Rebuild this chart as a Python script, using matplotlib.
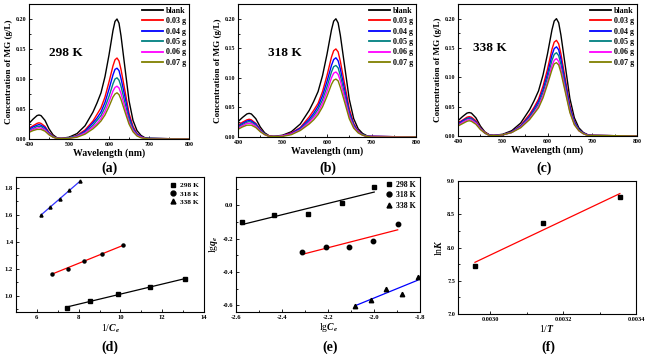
import matplotlib
matplotlib.use("Agg")
import matplotlib.pyplot as plt
import numpy as np

plt.rcParams['font.family'] = ['Liberation Serif', 'DejaVu Serif']
plt.rcParams['font.weight'] = 'bold'
plt.rcParams['mathtext.fontset'] = 'custom'
plt.rcParams['mathtext.rm'] = 'Liberation Serif:bold'
plt.rcParams['mathtext.it'] = 'Liberation Serif:bold:italic'

# ---------------- spectra data ----------------
wavelength = [400, 410, 420, 425, 430, 440, 450, 460, 470, 480,
              490, 500, 520, 540, 560, 570, 580, 590, 600, 610, 615, 620,
              625, 630, 640, 650, 660, 670, 680, 690, 700, 800]
series_labels = ['blank', '0.03 g', '0.04 g', '0.05 g', '0.06 g', '0.07 g']
series_colors = ['#000000', '#ff0000', '#0000ff', '#008080', '#ff00ff', '#808000']

blank = [.026, .033, .039, .040, .039, .031, .017, .007, .002, .001,
         .002, .003, .009, .022, .045, .060, .077, .104, .140, .181, .196, .200,
         .193, .172, .118, .064, .031, .014, .006, .002, .001, 0]

spec_298 = [
    blank,
    [.018, .022, .026, .027, .026, .021, .011, .005, .001, .001,
     .001, .002, .006, .015, .030, .041, .052, .070, .095, .122, .132, .135,
     .130, .116, .080, .043, .021, .009, .004, .001, .001, 0],
    [.016, .020, .023, .024, .023, .019, .010, .004, .001, .001,
     .001, .002, .005, .013, .027, .035, .045, .061, .083, .107, .116, .118,
     .114, .101, .070, .038, .018, .008, .004, .001, .001, 0],
    [.014, .017, .021, .021, .021, .016, .009, .004, .001, .001,
     .001, .002, .005, .011, .023, .031, .039, .053, .071, .092, .100, .102,
     .098, .088, .060, .033, .016, .007, .003, .001, .001, 0],
    [.012, .016, .018, .019, .018, .015, .008, .003, .001, .001,
     .001, .001, .004, .010, .020, .026, .034, .046, .062, .080, .086, .088,
     .085, .076, .052, .028, .014, .006, .003, .001, 0, 0],
    [.011, .014, .016, .016, .016, .013, .007, .003, .001, .001,
     .001, .001, .003, .008, .017, .023, .030, .040, .054, .070, .075, .077,
     .074, .066, .045, .025, .012, .005, .002, .001, 0, 0],
]

spec_318 = [
    blank,
    [.020, .025, .029, .030, .029, .023, .013, .005, .002, .001,
     .001, .002, .007, .016, .034, .045, .057, .077, .104, .135, .146, .149,
     .144, .128, .088, .048, .023, .010, .004, .001, .001, 0],
    [.018, .023, .027, .028, .027, .022, .012, .005, .001, .001,
     .001, .002, .006, .015, .030, .040, .052, .070, .094, .121, .131, .134,
     .129, .115, .079, .043, .021, .009, .004, .001, .001, 0],
    [.017, .021, .025, .026, .025, .020, .011, .005, .001, .001,
     .001, .002, .005, .013, .027, .036, .047, .063, .085, .110, .119, .121,
     .117, .104, .071, .039, .019, .008, .004, .001, .001, 0],
    [.015, .019, .023, .023, .023, .018, .010, .004, .001, .001,
     .001, .002, .005, .012, .025, .033, .042, .057, .077, .100, .108, .110,
     .106, .095, .065, .035, .017, .008, .003, .001, .001, 0],
    [.013, .017, .020, .020, .020, .016, .009, .004, .001, .001,
     .001, .001, .004, .011, .022, .029, .038, .051, .069, .089, .096, .098,
     .095, .084, .058, .031, .015, .007, .003, .001, 0, 0],
]

spec_338 = [
    blank,
    [.022, .027, .032, .033, .032, .026, .014, .006, .002, .001,
     .002, .002, .007, .018, .037, .049, .063, .085, .114, .148, .160, .163,
     .157, .140, .096, .052, .025, .011, .005, .002, .001, 0],
    [.020, .026, .030, .031, .030, .024, .013, .005, .002, .001,
     .002, .002, .007, .017, .034, .046, .059, .079, .106, .138, .149, .152,
     .147, .131, .090, .049, .024, .011, .005, .002, .001, 0],
    [.019, .024, .029, .030, .029, .023, .013, .005, .001, .001,
     .001, .002, .006, .016, .032, .043, .055, .074, .099, .129, .139, .142,
     .137, .122, .084, .045, .022, .010, .004, .001, .001, 0],
    [.018, .023, .027, .028, .027, .022, .012, .005, .001, .001,
     .001, .002, .006, .015, .030, .040, .051, .069, .092, .120, .129, .132,
     .127, .114, .078, .042, .020, .009, .004, .001, .001, 0],
    [.017, .021, .025, .026, .025, .020, .011, .005, .001, .001,
     .001, .002, .006, .014, .028, .038, .048, .065, .088, .113, .123, .125,
     .121, .108, .074, .040, .019, .009, .004, .001, .001, 0],
]

# ---------------- (d) Langmuir ----------------
d_x_298 = [7.43, 8.55, 9.86, 11.42, 13.11]
d_y_298 = [0.913, 0.958, 1.015, 1.065, 1.125]
d_x_318 = [6.73, 7.48, 8.26, 9.12, 10.14]
d_y_318 = [1.165, 1.200, 1.260, 1.313, 1.373]
d_x_338 = [6.19, 6.65, 7.10, 7.56, 8.06]
d_y_338 = [1.600, 1.655, 1.720, 1.783, 1.848]

# ---------------- (e) Freundlich ----------------
e_x_298 = [-2.574, -2.433, -2.288, -2.140, -1.999]
e_y_298 = [-0.100, -0.058, -0.054, 0.012, 0.110]
e_x_318 = [-2.313, -2.209, -2.109, -2.004, -1.897]
e_y_318 = [-0.278, -0.252, -0.248, -0.214, -0.114]
e_x_338 = [-2.083, -2.013, -1.949, -1.880, -1.810]
e_y_338 = [-0.602, -0.566, -0.504, -0.532, -0.428]

# ---------------- (f) van't Hoff ----------------
temps = [338, 318, 298]
lnK = [7.72, 8.37, 8.76]

W, H = 661, 354
fig = plt.figure(figsize=(W / 100, H / 100), dpi=100)


def add_ax(l, r, t, b):
    return fig.add_axes([l / W, 1 - b / H, (r - l) / W, (b - t) / H])


def style(ax, fs=4.5):
    ax.tick_params(axis='both', which='both', direction='in', labelsize=fs,
                   width=0.6, pad=2)
    ax.tick_params(which='major', length=2.5)
    ax.tick_params(which='minor', length=1.5)
    for s in ax.spines.values():
        s.set_linewidth(0.8)
    for lab in ax.get_xticklabels() + ax.get_yticklabels():
        lab.set_fontweight('bold')


spec_boxes = [(29, 189, 4, 139), (238, 416, 4, 137), (458, 637, 4, 136)]
spec_data = [spec_298, spec_318, spec_338]
spec_titles = ['298 K', '318 K', '338 K']
title_pos = [(0.125, 0.64), (0.17, 0.63), (0.085, 0.67)]
for i, (box, data, title) in enumerate(zip(spec_boxes, spec_data, spec_titles)):
    ax = add_ax(*box)
    for vals, lab, col in zip(data, series_labels, series_colors):
        ax.plot(wavelength, vals, color=col, lw=1.0, label=lab)
    ax.set_xlim(400, 800)
    ax.set_ylim(0, 0.225)
    ax.set_xticks([400, 500, 600, 700, 800])
    ax.set_xticks([450, 550, 650, 750], minor=True)
    ax.set_yticks([0, 0.05, 0.10, 0.15, 0.20])
    ax.set_yticklabels(['0.00', '0.05', '0.10', '0.15', '0.20'])
    ax.set_yticks([0.025, 0.075, 0.125, 0.175], minor=True)
    style(ax, 4.3)
    ax.set_xlabel('Wavelength (nm)', fontsize=7, fontweight='bold', labelpad=1)
    ax.set_ylabel('Concentration of MG (g/L)', fontsize=6.5, fontweight='bold', labelpad=2)
    tx, ty = title_pos[i]
    ax.text(tx, ty, title, transform=ax.transAxes, fontsize=9.5,
            fontweight='bold', va='center', ha='left')
    leg = ax.legend(loc='upper right', frameon=False, fontsize=5.8,
                    handlelength=2.6, handletextpad=0.4, labelspacing=0.3,
                    borderaxespad=0.15, borderpad=0.2)
    for lh in leg.get_lines():
        lh.set_linewidth(1.3)
    for t in leg.get_texts():
        t.set_fontweight('bold')

# (d)
ax = add_ax(16, 204, 177, 312)
for xs, ys, col, mk, lab in [(d_x_298, d_y_298, 'black', 's', '298 K'),
                             (d_x_318, d_y_318, 'red', 'o', '318 K'),
                             (d_x_338, d_y_338, '#3030ff', '^', '338 K')]:
    p = np.polyfit(xs, ys, 1)
    fx = np.array([xs[0], xs[-1]])
    ax.plot(fx, np.polyval(p, fx), color=col, lw=0.9)
    ax.plot(xs, ys, linestyle='none', marker=mk, ms=2.2, color='black', label=lab)
ax.set_xlim(5, 14)
ax.set_ylim(0.88, 1.88)
ax.set_xticks([6, 8, 10, 12, 14])
ax.set_xticks([5, 7, 9, 11, 13], minor=True)
ax.set_yticks([1.0, 1.2, 1.4, 1.6, 1.8])
ax.set_yticklabels(['1.0', '1.2', '1.4', '1.6', '1.8'])
ax.set_yticks([0.9, 1.1, 1.3, 1.5, 1.7], minor=True)
style(ax, 4.8)
ax.set_xlabel('1/$C_e$', fontsize=7, labelpad=2)
leg = ax.legend(loc='upper right', frameon=False, fontsize=5.3, handlelength=1.0,
                handletextpad=0.4, labelspacing=0.3, borderaxespad=0.3, markerscale=1.6)
for t in leg.get_texts():
    t.set_fontweight('bold')

# (e)
ax = add_ax(236, 420, 177, 312)
for xs, ys, col, mk, lab in [(e_x_298, e_y_298, 'black', 's', '298 K'),
                             (e_x_318, e_y_318, 'red', 'o', '318 K'),
                             (e_x_338, e_y_338, 'blue', '^', '338 K')]:
    p = np.polyfit(xs, ys, 1)
    fx = np.array([xs[0], xs[-1]])
    ax.plot(fx, np.polyval(p, fx), color=col, lw=0.9)
    ax.plot(xs, ys, linestyle='none', marker=mk, ms=3.2, color='black', label=lab)
ax.set_xlim(-2.6, -1.8)
ax.set_ylim(-0.64, 0.17)
ax.set_xticks([-2.6, -2.4, -2.2, -2.0, -1.8])
ax.set_xticklabels(['-2.6', '-2.4', '-2.2', '-2.0', '-1.8'])
ax.set_xticks([-2.5, -2.3, -2.1, -1.9], minor=True)
ax.set_yticks([-0.6, -0.4, -0.2, 0.0])
ax.set_yticklabels(['-0.6', '-0.4', '-0.2', '0.0'])
ax.set_yticks([-0.5, -0.3, -0.1, 0.1], minor=True)
style(ax, 4.8)
ax.set_xlabel('lg$C_e$', fontsize=7, labelpad=1)
ax.set_ylabel('lg$q_e$', fontsize=7, labelpad=2)
leg = ax.legend(loc='upper right', frameon=False, fontsize=5.6, handlelength=1.0,
                handletextpad=0.4, labelspacing=0.3, borderaxespad=0.1, markerscale=1.1)
for t in leg.get_texts():
    t.set_fontweight('bold')

# (f)
ax = add_ax(458, 636, 181, 314)
invT = [1.0 / t for t in temps]
p = np.polyfit(invT, lnK, 1)
fx = np.array([invT[0], invT[-1]])
ax.plot(fx, np.polyval(p, fx), color='red', lw=0.9)
ax.plot(invT, lnK, linestyle='none', marker='s', ms=2.8, color='black')
ax.set_xlim(0.002912, 0.0034)
ax.set_ylim(7.0, 9.0)
ax.set_xticks([0.0030, 0.0032, 0.0034])
ax.set_xticklabels(['0.0030', '0.0032', '0.0034'])
ax.set_xticks([0.0031, 0.0033], minor=True)
ax.set_yticks([7.0, 7.5, 8.0, 8.5, 9.0])
ax.set_yticklabels(['7.0', '7.5', '8.0', '8.5', '9.0'])
ax.set_yticks([7.25, 7.75, 8.25, 8.75], minor=True)
style(ax, 4.5)
ax.set_xlabel('1/$T$', fontsize=7, labelpad=1)
ax.set_ylabel('ln$K$', fontsize=7, labelpad=2)

# captions
for x, y, s in [(110, 168, '(a)'), (328, 168, '(b)'), (544, 168, '(c)'),
                (110, 347, '(d)'), (330, 347, '(e)'), (548, 347, '(f)')]:
    fig.text(x / W, 1 - y / H, s, fontsize=10, fontweight='bold',
             ha='center', va='center')

fig.savefig('out.png', dpi=100)
